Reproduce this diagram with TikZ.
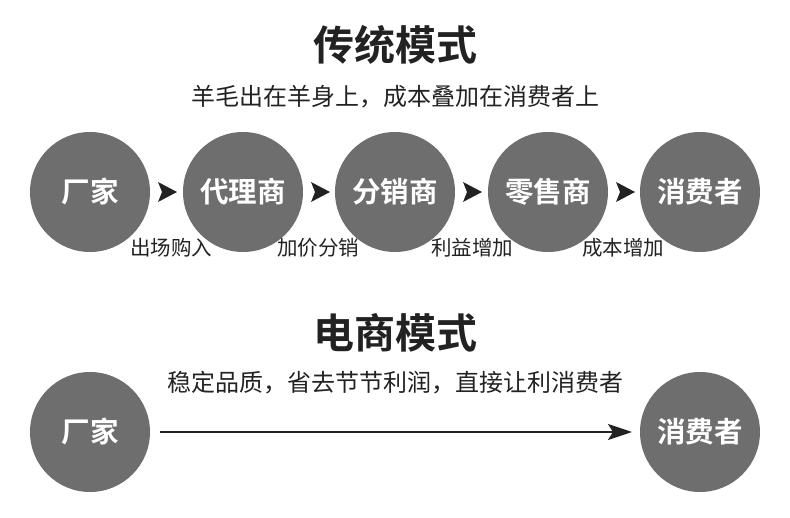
\documentclass[tikz,border=0pt]{standalone}
\usepackage{fontspec}
\newfontfamily\cjk{Noto Sans CJK SC}
\newfontfamily\cjkb{Noto Sans CJK SC Bold}
\usetikzlibrary{arrows.meta}
\definecolor{circ}{HTML}{6E6E6E}
\definecolor{ink}{HTML}{222222}
\tikzset{
  ball/.style={circle,fill=circ,minimum size=120pt,inner sep=0pt,text=white,font=\cjkb\fontsize{28.5}{30}\selectfont},
  title/.style={text=ink,font=\cjkb\fontsize{41}{44}\selectfont},
  sub/.style={text=ink,font=\cjk\fontsize{24}{26}\selectfont},
  lab/.style={text=ink,font=\cjk\fontsize{20.5}{22}\selectfont},
  tri/.style={fill=ink},
  longarr/.style={draw=ink,line width=2.2pt,-{Stealth[length=24pt,width=16pt,inset=5pt]}}
}
\begin{document}
\begin{tikzpicture}[x=1pt,y=-1pt]
\useasboundingbox (0,0) rectangle (790,518);
\node[title] (t1) at (395,45) {传统模式};
\node[sub] (s1) at (395,97) {羊毛出在羊身上，成本叠加在消费者上};
\node[ball] (a1) at (90,192) {厂家};
\node[ball] (a2) at (243,192) {代理商};
\node[ball] (a3) at (395,192) {分销商};
\node[ball] (a4) at (548,192) {零售商};
\node[ball] (a5) at (700,192) {消费者};
\foreach \x in {158,311,463,616}{
  \fill[tri] (\x,182) -- (\x+19,192) -- (\x,202) -- (\x+4,192) -- cycle;
}
\node[lab] (l1) at (171,248) {出场购入};
\node[lab] (l2) at (318,248) {加价分销};
\node[lab] (l3) at (472,248) {利益增加};
\node[lab] (l4) at (623,248) {成本增加};
\node[title] (t2) at (395,333) {电商模式};
\node[sub] (s2) at (395,383) {稳定品质，省去节节利润，直接让利消费者};
\node[ball] (b1) at (90,432) {厂家};
\node[ball] (b2) at (700,432) {消费者};
\coordinate (c1) at (160,432);
\coordinate (c2) at (632,432);
\draw[longarr] (c1) -- (c2);
\end{tikzpicture}
\end{document}
